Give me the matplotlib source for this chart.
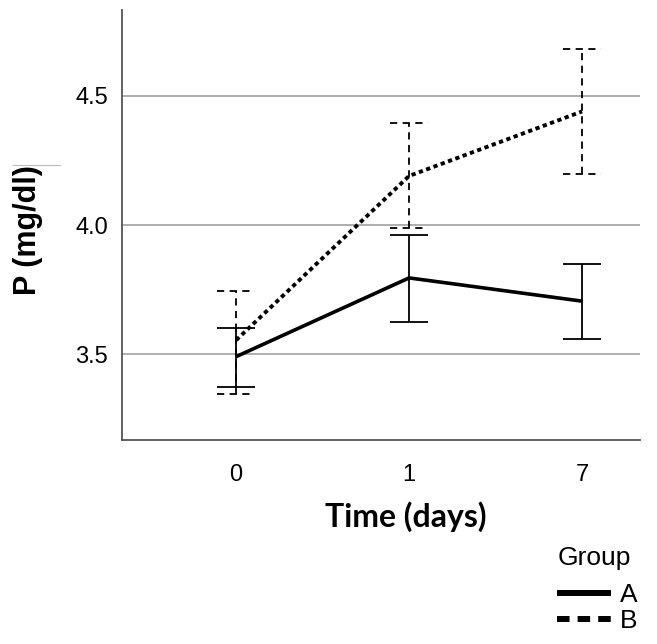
import matplotlib
matplotlib.use("Agg")
import matplotlib.pyplot as plt
from matplotlib.lines import Line2D
import numpy as np

# Data
time_labels = ["0", "1", "7"]
groups = ["A", "B"]
mean_A = [3.49, 3.795, 3.705]
low_A = [3.372, 3.625, 3.558]
high_A = [3.600, 3.960, 3.849]
mean_B = [3.554, 4.19, 4.44]
low_B = [3.345, 3.99, 4.198]
high_B = [3.744, 4.397, 4.682]
yticks = [3.5, 4.0, 4.5]

fig = plt.figure(figsize=(6.57, 6.44), dpi=100)
ax = fig.add_axes([122/657, 1-440/644, (640-122)/657, (440-10)/644])

x = np.arange(len(time_labels))
capw = 0.11

# group A
ax.vlines(x, low_A, high_A, colors="black", linewidth=1.3, zorder=3)
ax.hlines(low_A, x-capw, x+capw, colors="black", linewidth=1.3, zorder=3)
ax.hlines(high_A, x-capw, x+capw, colors="black", linewidth=1.3, zorder=3)
ax.plot(x, mean_A, color="black", linewidth=2.6, solid_capstyle="butt", zorder=4)

# group B
dash = (0, (4, 3))
ax.vlines(x, low_B, high_B, colors="black", linewidth=1.3, linestyles=[dash], zorder=3)
ax.hlines(low_B, x-capw, x+capw, colors="black", linewidth=1.3, linestyles=[dash], zorder=3)
ax.hlines(high_B, x-capw, x+capw, colors="black", linewidth=1.3, linestyles=[dash], zorder=3)
ax.plot(x, mean_B, color="black", linewidth=2.8, linestyle=(0, (1.1, 0.9)), zorder=4)

ax.set_xlim(-0.66, 2.335)
ax.set_ylim(3.167, 4.833)
ax.set_xticks(x)
ax.set_xticklabels(time_labels, fontsize=17, fontfamily="Liberation Sans")
ax.set_yticks(yticks)
ax.set_yticklabels([f"{v:.1f}" for v in yticks], fontsize=17, fontfamily="Liberation Sans")
ax.tick_params(axis="y", length=0, pad=10)
ax.tick_params(axis="x", length=0, pad=17)
ax.yaxis.grid(True, color="#a8a8a8", linewidth=1.3)
ax.set_axisbelow(True)
for s in ["top", "right"]:
    ax.spines[s].set_visible(False)
for s in ["left", "bottom"]:
    ax.spines[s].set_color("#555555")
    ax.spines[s].set_linewidth(1.3)

ax.set_ylabel("P (mg/dl)", fontsize=22, fontweight="bold", fontfamily="Liberation Sans")
ax.yaxis.set_label_coords((43-122)/518, (440-230)/430)
ax.set_xlabel("Time (days)", fontsize=23, fontweight="bold", fontfamily="Lato")
ax.xaxis.set_label_coords((406-122)/518, -0.142)

# legend
fig.text(558/657, 1-565/644, "Group", fontsize=19, fontfamily="Liberation Sans", ha="left", va="baseline")
handles = [Line2D([], [], color="black", linewidth=4.3, solid_capstyle="butt"),
           Line2D([], [], color="black", linewidth=4.3, linestyle=(0, (2.1, 1.35)), dash_capstyle="butt")]
leg = ax.legend(handles, groups, loc="center left", bbox_to_anchor=(557/657, 1-608/644),
                bbox_transform=fig.transFigure,
                frameon=False,
                handlelength=2.05, handletextpad=0.35, labelspacing=0.08, borderpad=0, borderaxespad=0,
                prop={"family": "Liberation Sans", "size": 19})

# small stray gray tick at left of the y label
fig.add_artist(Line2D([13/657, 60/657], [1-165/644, 1-165/644], color="#bbbbbb", linewidth=0.8))

fig.savefig("out.png", dpi=100)
